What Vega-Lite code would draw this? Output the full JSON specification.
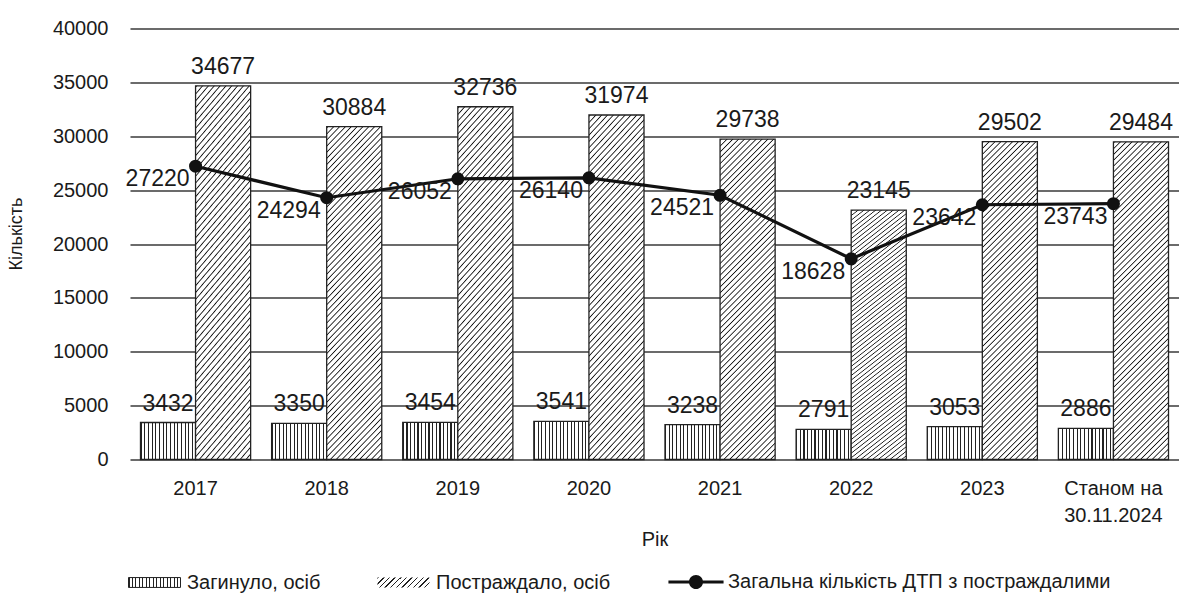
{
  "$schema": "https://vega.github.io/schema/vega-lite/v6.json",
  "width": 1049,
  "height": 431,
  "autosize": {"type": "none"},
  "padding": {"left": 130, "top": 28.5, "right": 0, "bottom": 135.5},
  "background": "white",
  "config": {"view": {"stroke": null}, "font": "Liberation Sans", "text": {"font": "Liberation Sans"}},
  "resolve": {"scale": {"stroke": "independent"}, "legend": {"stroke": "independent"}},
  "data": {"values": [
    {"year": "2017", "series": "Загинуло, осіб", "value": 3432},
    {"year": "2017", "series": "Постраждало, осіб", "value": 34677},
    {"year": "2017", "series": "Загальна кількість ДТП з постраждалими", "value": 27220},
    {"year": "2018", "series": "Загинуло, осіб", "value": 3350},
    {"year": "2018", "series": "Постраждало, осіб", "value": 30884},
    {"year": "2018", "series": "Загальна кількість ДТП з постраждалими", "value": 24294},
    {"year": "2019", "series": "Загинуло, осіб", "value": 3454},
    {"year": "2019", "series": "Постраждало, осіб", "value": 32736},
    {"year": "2019", "series": "Загальна кількість ДТП з постраждалими", "value": 26052},
    {"year": "2020", "series": "Загинуло, осіб", "value": 3541},
    {"year": "2020", "series": "Постраждало, осіб", "value": 31974},
    {"year": "2020", "series": "Загальна кількість ДТП з постраждалими", "value": 26140},
    {"year": "2021", "series": "Загинуло, осіб", "value": 3238},
    {"year": "2021", "series": "Постраждало, осіб", "value": 29738},
    {"year": "2021", "series": "Загальна кількість ДТП з постраждалими", "value": 24521},
    {"year": "2022", "series": "Загинуло, осіб", "value": 2791},
    {"year": "2022", "series": "Постраждало, осіб", "value": 23145},
    {"year": "2022", "series": "Загальна кількість ДТП з постраждалими", "value": 18628},
    {"year": "2023", "series": "Загинуло, осіб", "value": 3053},
    {"year": "2023", "series": "Постраждало, осіб", "value": 29502},
    {"year": "2023", "series": "Загальна кількість ДТП з постраждалими", "value": 23642},
    {"year": "Станом на 30.11.2024", "series": "Загинуло, осіб", "value": 2886},
    {"year": "Станом на 30.11.2024", "series": "Постраждало, осіб", "value": 29484},
    {"year": "Станом на 30.11.2024", "series": "Загальна кількість ДТП з постраждалими", "value": 23743}
  ]},
  "encoding": {
    "x": {
      "field": "year", "type": "nominal", "sort": null,
      "scale": {"paddingInner": 0.16, "paddingOuter": 0.08},
      "axis": {
        "title": "Рік", "labelAngle": 0, "domain": false, "ticks": false, "tickSize": 0, "grid": false,
        "labelPadding": 19, "labelFontSize": 20, "labelColor": "#1a1a1a", "labelLineHeight": 27,
        "labelExpr": "datum.value == 'Станом на 30.11.2024' ? ['Станом на', '30.11.2024'] : datum.value",
        "titleFontSize": 20, "titleFontWeight": "normal", "titleColor": "#1a1a1a", "titleY": 86, "titleBaseline": "alphabetic"
      }
    },
    "y": {
      "field": "value", "type": "quantitative",
      "scale": {"domain": [0, 40000], "nice": false},
      "axis": {
        "title": "Кількість", "values": [0, 5000, 10000, 15000, 20000, 25000, 30000, 35000, 40000], "format": "d",
        "grid": true, "gridColor": "#3a3a3a", "gridWidth": 1.3, "domain": false, "ticks": false, "tickSize": 0,
        "labelFontSize": 20, "labelColor": "#1a1a1a", "labelPadding": 22,
        "titleFontSize": 18, "titleFontWeight": "normal", "titleColor": "#1a1a1a",
        "titleX": -114, "titleY": 205, "titleAlign": "center", "titleBaseline": "middle", "titleAngle": -90
      }
    }
  },
  "layer": [
    {
      "transform": [{"filter": "datum.series == 'Загинуло, осіб'"}],
      "mark": {"type": "bar", "strokeWidth": 1.3, "fill": {"gradient": "linear", "x1": 0, "y1": 0, "x2": 1, "y2": 0, "stops": [
        {"offset": 0, "color": "#222"}, {"offset": 0.02, "color": "#222"}, {"offset": 0.02, "color": "#fff"}, {"offset": 0.0667, "color": "#fff"},
        {"offset": 0.0667, "color": "#222"}, {"offset": 0.0867, "color": "#222"}, {"offset": 0.0867, "color": "#fff"}, {"offset": 0.1333, "color": "#fff"},
        {"offset": 0.1333, "color": "#222"}, {"offset": 0.1533, "color": "#222"}, {"offset": 0.1533, "color": "#fff"}, {"offset": 0.2, "color": "#fff"},
        {"offset": 0.2, "color": "#222"}, {"offset": 0.22, "color": "#222"}, {"offset": 0.22, "color": "#fff"}, {"offset": 0.2667, "color": "#fff"},
        {"offset": 0.2667, "color": "#222"}, {"offset": 0.2867, "color": "#222"}, {"offset": 0.2867, "color": "#fff"}, {"offset": 0.3333, "color": "#fff"},
        {"offset": 0.3333, "color": "#222"}, {"offset": 0.3533, "color": "#222"}, {"offset": 0.3533, "color": "#fff"}, {"offset": 0.4, "color": "#fff"},
        {"offset": 0.4, "color": "#222"}, {"offset": 0.42, "color": "#222"}, {"offset": 0.42, "color": "#fff"}, {"offset": 0.4667, "color": "#fff"},
        {"offset": 0.4667, "color": "#222"}, {"offset": 0.4867, "color": "#222"}, {"offset": 0.4867, "color": "#fff"}, {"offset": 0.5333, "color": "#fff"},
        {"offset": 0.5333, "color": "#222"}, {"offset": 0.5533, "color": "#222"}, {"offset": 0.5533, "color": "#fff"}, {"offset": 0.6, "color": "#fff"},
        {"offset": 0.6, "color": "#222"}, {"offset": 0.62, "color": "#222"}, {"offset": 0.62, "color": "#fff"}, {"offset": 0.6667, "color": "#fff"},
        {"offset": 0.6667, "color": "#222"}, {"offset": 0.6867, "color": "#222"}, {"offset": 0.6867, "color": "#fff"}, {"offset": 0.7333, "color": "#fff"},
        {"offset": 0.7333, "color": "#222"}, {"offset": 0.7533, "color": "#222"}, {"offset": 0.7533, "color": "#fff"}, {"offset": 0.8, "color": "#fff"},
        {"offset": 0.8, "color": "#222"}, {"offset": 0.82, "color": "#222"}, {"offset": 0.82, "color": "#fff"}, {"offset": 0.8667, "color": "#fff"},
        {"offset": 0.8667, "color": "#222"}, {"offset": 0.8867, "color": "#222"}, {"offset": 0.8867, "color": "#fff"}, {"offset": 0.9333, "color": "#fff"},
        {"offset": 0.9333, "color": "#222"}, {"offset": 0.9533, "color": "#222"}, {"offset": 0.9533, "color": "#fff"}, {"offset": 1, "color": "#fff"}
      ]}},
      "encoding": {
        "xOffset": {"field": "series", "type": "nominal", "scale": {"domain": ["Загинуло, осіб", "Постраждало, осіб"], "paddingInner": 0, "paddingOuter": 0}},
        "stroke": {
          "field": "series", "type": "nominal",
          "scale": {"domain": ["Загинуло, осіб"], "range": ["#222"]},
          "legend": {
            "title": null, "orient": "none", "legendX": -2, "legendY": 527.5, "direction": "horizontal",
            "symbolSize": 2704, "symbolType": "M-1,-0.19H1V0.19H-1Z", "labelFontSize": 20, "labelOffset": 6,
            "labelColor": "#1a1a1a", "labelLimit": 600, "padding": 0, "symbolStrokeWidth": 1, "symbolOpacity": 1
          }
        }
      }
    },
    {
      "transform": [{"filter": "datum.series == 'Постраждало, осіб'"}],
      "mark": {"type": "bar", "strokeWidth": 1.3, "stroke": "#222", "fill": {"gradient": "linear", "x1": 0, "y1": 0, "x2": 0.1967, "y2": 1.1387, "stops": [
        {"offset": 0, "color": "#fff"}, {"offset": 0.003125, "color": "#111"}, {"offset": 0.00625, "color": "#fff"},
        {"offset": 0.015625, "color": "#fff"}, {"offset": 0.01875, "color": "#111"}, {"offset": 0.021875, "color": "#fff"},
        {"offset": 0.03125, "color": "#fff"}, {"offset": 0.034375, "color": "#111"}, {"offset": 0.0375, "color": "#fff"},
        {"offset": 0.046875, "color": "#fff"}, {"offset": 0.05, "color": "#111"}, {"offset": 0.053125, "color": "#fff"},
        {"offset": 0.0625, "color": "#fff"}, {"offset": 0.065625, "color": "#111"}, {"offset": 0.06875, "color": "#fff"},
        {"offset": 0.078125, "color": "#fff"}, {"offset": 0.08125, "color": "#111"}, {"offset": 0.084375, "color": "#fff"},
        {"offset": 0.09375, "color": "#fff"}, {"offset": 0.096875, "color": "#111"}, {"offset": 0.1, "color": "#fff"},
        {"offset": 0.109375, "color": "#fff"}, {"offset": 0.1125, "color": "#111"}, {"offset": 0.115625, "color": "#fff"},
        {"offset": 0.125, "color": "#fff"}, {"offset": 0.128125, "color": "#111"}, {"offset": 0.13125, "color": "#fff"},
        {"offset": 0.140625, "color": "#fff"}, {"offset": 0.14375, "color": "#111"}, {"offset": 0.146875, "color": "#fff"},
        {"offset": 0.15625, "color": "#fff"}, {"offset": 0.159375, "color": "#111"}, {"offset": 0.1625, "color": "#fff"},
        {"offset": 0.171875, "color": "#fff"}, {"offset": 0.175, "color": "#111"}, {"offset": 0.178125, "color": "#fff"},
        {"offset": 0.1875, "color": "#fff"}, {"offset": 0.190625, "color": "#111"}, {"offset": 0.19375, "color": "#fff"},
        {"offset": 0.203125, "color": "#fff"}, {"offset": 0.20625, "color": "#111"}, {"offset": 0.209375, "color": "#fff"},
        {"offset": 0.21875, "color": "#fff"}, {"offset": 0.221875, "color": "#111"}, {"offset": 0.225, "color": "#fff"},
        {"offset": 0.234375, "color": "#fff"}, {"offset": 0.2375, "color": "#111"}, {"offset": 0.240625, "color": "#fff"},
        {"offset": 0.25, "color": "#fff"}, {"offset": 0.253125, "color": "#111"}, {"offset": 0.25625, "color": "#fff"},
        {"offset": 0.265625, "color": "#fff"}, {"offset": 0.26875, "color": "#111"}, {"offset": 0.271875, "color": "#fff"},
        {"offset": 0.28125, "color": "#fff"}, {"offset": 0.284375, "color": "#111"}, {"offset": 0.2875, "color": "#fff"},
        {"offset": 0.296875, "color": "#fff"}, {"offset": 0.3, "color": "#111"}, {"offset": 0.303125, "color": "#fff"},
        {"offset": 0.3125, "color": "#fff"}, {"offset": 0.315625, "color": "#111"}, {"offset": 0.31875, "color": "#fff"},
        {"offset": 0.328125, "color": "#fff"}, {"offset": 0.33125, "color": "#111"}, {"offset": 0.334375, "color": "#fff"},
        {"offset": 0.34375, "color": "#fff"}, {"offset": 0.346875, "color": "#111"}, {"offset": 0.35, "color": "#fff"},
        {"offset": 0.359375, "color": "#fff"}, {"offset": 0.3625, "color": "#111"}, {"offset": 0.365625, "color": "#fff"},
        {"offset": 0.375, "color": "#fff"}, {"offset": 0.378125, "color": "#111"}, {"offset": 0.38125, "color": "#fff"},
        {"offset": 0.390625, "color": "#fff"}, {"offset": 0.39375, "color": "#111"}, {"offset": 0.396875, "color": "#fff"},
        {"offset": 0.40625, "color": "#fff"}, {"offset": 0.409375, "color": "#111"}, {"offset": 0.4125, "color": "#fff"},
        {"offset": 0.421875, "color": "#fff"}, {"offset": 0.425, "color": "#111"}, {"offset": 0.428125, "color": "#fff"},
        {"offset": 0.4375, "color": "#fff"}, {"offset": 0.440625, "color": "#111"}, {"offset": 0.44375, "color": "#fff"},
        {"offset": 0.453125, "color": "#fff"}, {"offset": 0.45625, "color": "#111"}, {"offset": 0.459375, "color": "#fff"},
        {"offset": 0.46875, "color": "#fff"}, {"offset": 0.471875, "color": "#111"}, {"offset": 0.475, "color": "#fff"},
        {"offset": 0.484375, "color": "#fff"}, {"offset": 0.4875, "color": "#111"}, {"offset": 0.490625, "color": "#fff"},
        {"offset": 0.5, "color": "#fff"}, {"offset": 0.503125, "color": "#111"}, {"offset": 0.50625, "color": "#fff"},
        {"offset": 0.515625, "color": "#fff"}, {"offset": 0.51875, "color": "#111"}, {"offset": 0.521875, "color": "#fff"},
        {"offset": 0.53125, "color": "#fff"}, {"offset": 0.534375, "color": "#111"}, {"offset": 0.5375, "color": "#fff"},
        {"offset": 0.546875, "color": "#fff"}, {"offset": 0.55, "color": "#111"}, {"offset": 0.553125, "color": "#fff"},
        {"offset": 0.5625, "color": "#fff"}, {"offset": 0.565625, "color": "#111"}, {"offset": 0.56875, "color": "#fff"},
        {"offset": 0.578125, "color": "#fff"}, {"offset": 0.58125, "color": "#111"}, {"offset": 0.584375, "color": "#fff"},
        {"offset": 0.59375, "color": "#fff"}, {"offset": 0.596875, "color": "#111"}, {"offset": 0.6, "color": "#fff"},
        {"offset": 0.609375, "color": "#fff"}, {"offset": 0.6125, "color": "#111"}, {"offset": 0.615625, "color": "#fff"},
        {"offset": 0.625, "color": "#fff"}, {"offset": 0.628125, "color": "#111"}, {"offset": 0.63125, "color": "#fff"},
        {"offset": 0.640625, "color": "#fff"}, {"offset": 0.64375, "color": "#111"}, {"offset": 0.646875, "color": "#fff"},
        {"offset": 0.65625, "color": "#fff"}, {"offset": 0.659375, "color": "#111"}, {"offset": 0.6625, "color": "#fff"},
        {"offset": 0.671875, "color": "#fff"}, {"offset": 0.675, "color": "#111"}, {"offset": 0.678125, "color": "#fff"},
        {"offset": 0.6875, "color": "#fff"}, {"offset": 0.690625, "color": "#111"}, {"offset": 0.69375, "color": "#fff"},
        {"offset": 0.703125, "color": "#fff"}, {"offset": 0.70625, "color": "#111"}, {"offset": 0.709375, "color": "#fff"},
        {"offset": 0.71875, "color": "#fff"}, {"offset": 0.721875, "color": "#111"}, {"offset": 0.725, "color": "#fff"},
        {"offset": 0.734375, "color": "#fff"}, {"offset": 0.7375, "color": "#111"}, {"offset": 0.740625, "color": "#fff"},
        {"offset": 0.75, "color": "#fff"}, {"offset": 0.753125, "color": "#111"}, {"offset": 0.75625, "color": "#fff"},
        {"offset": 0.765625, "color": "#fff"}, {"offset": 0.76875, "color": "#111"}, {"offset": 0.771875, "color": "#fff"},
        {"offset": 0.78125, "color": "#fff"}, {"offset": 0.784375, "color": "#111"}, {"offset": 0.7875, "color": "#fff"},
        {"offset": 0.796875, "color": "#fff"}, {"offset": 0.8, "color": "#111"}, {"offset": 0.803125, "color": "#fff"},
        {"offset": 0.8125, "color": "#fff"}, {"offset": 0.815625, "color": "#111"}, {"offset": 0.81875, "color": "#fff"},
        {"offset": 0.828125, "color": "#fff"}, {"offset": 0.83125, "color": "#111"}, {"offset": 0.834375, "color": "#fff"},
        {"offset": 0.84375, "color": "#fff"}, {"offset": 0.846875, "color": "#111"}, {"offset": 0.85, "color": "#fff"},
        {"offset": 0.859375, "color": "#fff"}, {"offset": 0.8625, "color": "#111"}, {"offset": 0.865625, "color": "#fff"},
        {"offset": 0.875, "color": "#fff"}, {"offset": 0.878125, "color": "#111"}, {"offset": 0.88125, "color": "#fff"},
        {"offset": 0.890625, "color": "#fff"}, {"offset": 0.89375, "color": "#111"}, {"offset": 0.896875, "color": "#fff"},
        {"offset": 0.90625, "color": "#fff"}, {"offset": 0.909375, "color": "#111"}, {"offset": 0.9125, "color": "#fff"},
        {"offset": 0.921875, "color": "#fff"}, {"offset": 0.925, "color": "#111"}, {"offset": 0.928125, "color": "#fff"},
        {"offset": 0.9375, "color": "#fff"}, {"offset": 0.940625, "color": "#111"}, {"offset": 0.94375, "color": "#fff"},
        {"offset": 0.953125, "color": "#fff"}, {"offset": 0.95625, "color": "#111"}, {"offset": 0.959375, "color": "#fff"},
        {"offset": 0.96875, "color": "#fff"}, {"offset": 0.971875, "color": "#111"}, {"offset": 0.975, "color": "#fff"},
        {"offset": 0.984375, "color": "#fff"}, {"offset": 0.9875, "color": "#111"}, {"offset": 0.990625, "color": "#fff"},
        {"offset": 1, "color": "#fff"}
      ]}},
      "encoding": {
        "xOffset": {"field": "series", "type": "nominal", "scale": {"domain": ["Загинуло, осіб", "Постраждало, осіб"], "paddingInner": 0, "paddingOuter": 0}},
        "strokeDash": {
          "field": "series", "type": "nominal",
          "scale": {"domain": ["Постраждало, осіб"], "range": [[1, 0]]},
          "legend": {
            "title": null, "orient": "none", "legendX": 247, "legendY": 527.5, "direction": "horizontal",
            "symbolSize": 2704, "symbolType": "M-1,-0.19H1V0.19H-1Z", "labelFontSize": 20, "labelOffset": 6,
            "labelColor": "#1a1a1a", "labelLimit": 600, "padding": 0, "symbolStrokeWidth": 1, "symbolStrokeColor": "#222", "symbolOpacity": 1,
            "encoding": {"symbols": {
              "fill": {"value": {"gradient": "linear", "x1": 0, "y1": 0, "x2": 1.1497, "y2": 0.2211, "stops": [
                {"offset": 0, "color": "#222"}, {"offset": 0.0227, "color": "#222"}, {"offset": 0.0227, "color": "#fff"}, {"offset": 0.0909, "color": "#fff"},
                {"offset": 0.0909, "color": "#222"}, {"offset": 0.1136, "color": "#222"}, {"offset": 0.1136, "color": "#fff"}, {"offset": 0.1818, "color": "#fff"},
                {"offset": 0.1818, "color": "#222"}, {"offset": 0.2045, "color": "#222"}, {"offset": 0.2045, "color": "#fff"}, {"offset": 0.2727, "color": "#fff"},
                {"offset": 0.2727, "color": "#222"}, {"offset": 0.2955, "color": "#222"}, {"offset": 0.2955, "color": "#fff"}, {"offset": 0.3636, "color": "#fff"},
                {"offset": 0.3636, "color": "#222"}, {"offset": 0.3864, "color": "#222"}, {"offset": 0.3864, "color": "#fff"}, {"offset": 0.4545, "color": "#fff"},
                {"offset": 0.4545, "color": "#222"}, {"offset": 0.4773, "color": "#222"}, {"offset": 0.4773, "color": "#fff"}, {"offset": 0.5455, "color": "#fff"},
                {"offset": 0.5455, "color": "#222"}, {"offset": 0.5682, "color": "#222"}, {"offset": 0.5682, "color": "#fff"}, {"offset": 0.6364, "color": "#fff"},
                {"offset": 0.6364, "color": "#222"}, {"offset": 0.6591, "color": "#222"}, {"offset": 0.6591, "color": "#fff"}, {"offset": 0.7273, "color": "#fff"},
                {"offset": 0.7273, "color": "#222"}, {"offset": 0.75, "color": "#222"}, {"offset": 0.75, "color": "#fff"}, {"offset": 0.8182, "color": "#fff"},
                {"offset": 0.8182, "color": "#222"}, {"offset": 0.8409, "color": "#222"}, {"offset": 0.8409, "color": "#fff"}, {"offset": 0.9091, "color": "#fff"},
                {"offset": 0.9091, "color": "#222"}, {"offset": 0.9318, "color": "#222"}, {"offset": 0.9318, "color": "#fff"}, {"offset": 1, "color": "#fff"}
              ]}}
            }}
          }
        }
      }
    },
    {
      "transform": [{"filter": "datum.series == 'Загальна кількість ДТП з постраждалими'"}],
      "mark": {"type": "line", "strokeWidth": 3.2},
      "encoding": {
        "stroke": {
          "field": "series", "type": "nominal",
          "scale": {"domain": ["Загальна кількість ДТП з постраждалими"], "range": ["#111"]},
          "legend": {
            "title": null, "orient": "none", "legendX": 540, "legendY": 527.5, "direction": "horizontal",
            "symbolSize": 2704, "symbolType": "M-1.06,-0.06H1.06V0.06H-1.06Z M0.27,0A0.27,0.27,0,1,1,-0.27,0A0.27,0.27,0,1,1,0.27,0Z",
            "labelFontSize": 20, "labelOffset": 6, "labelColor": "#1a1a1a", "labelLimit": 600, "padding": 0,
            "symbolFillColor": "#111", "symbolStrokeWidth": 0, "symbolOpacity": 1,
            "encoding": {"symbols": {"fill": {"value": "#111"}, "strokeWidth": {"value": 0}}}
          }
        }
      }
    },
    {
      "transform": [{"filter": "datum.series == 'Загальна кількість ДТП з постраждалими'"}],
      "mark": {"type": "point", "filled": true, "fill": "#111", "size": 170, "opacity": 1, "strokeWidth": 0},
      "encoding": {}
    },
    {
      "transform": [{"filter": "datum.series != 'Загальна кількість ДТП з постраждалими'"}],
      "mark": {"type": "text", "fontSize": 23, "dy": -12, "baseline": "alphabetic", "align": "center", "color": "#1a1a1a"},
      "encoding": {
        "xOffset": {"field": "series", "type": "nominal", "scale": {"domain": ["Загинуло, осіб", "Постраждало, осіб"], "paddingInner": 0, "paddingOuter": 0}},
        "text": {"field": "value", "type": "quantitative", "format": "d"}
      }
    },
    {
      "transform": [{"filter": "datum.series == 'Загальна кількість ДТП з постраждалими'"}],
      "mark": {"type": "text", "fontSize": 23, "dx": -6, "dy": 2, "baseline": "top", "align": "right", "color": "#1a1a1a"},
      "encoding": {
        "text": {"field": "value", "type": "quantitative", "format": "d"}
      }
    }
  ]
}
